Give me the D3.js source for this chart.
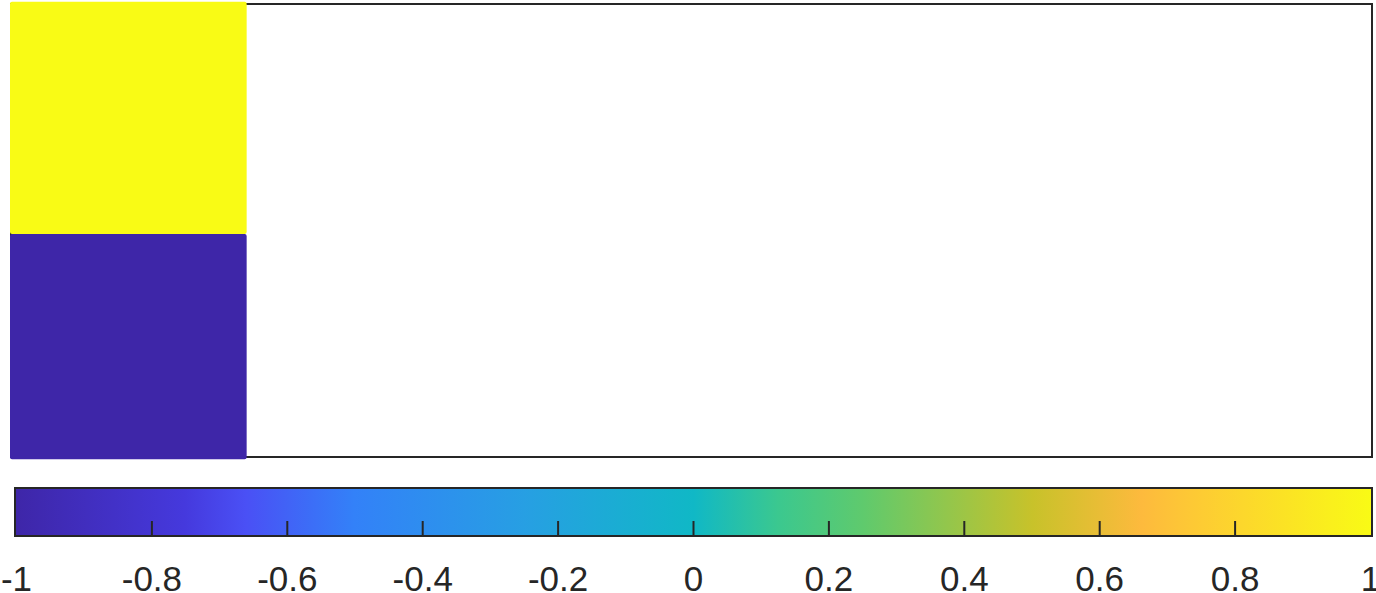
<!DOCTYPE html>
<html>
<head>
<meta charset="utf-8">
<script src="https://cdn.jsdelivr.net/npm/d3@7"></script>
<style>
  html, body { margin: 0; padding: 0; background: #fff; }
  svg { display: block; font-family: "Liberation Sans", Arial, sans-serif; }
</style>
</head>
<body>
<div id="chart"></div>
<script>
// cells of the image: x span, y span, value
var cellX0 = [0, 0];
var cellX1 = [1, 1];
var cellY0 = [0.985, -0.01];
var cellY1 = [2.01, 0.985];
var cellValue = [1, -1];

// colorbar ticks
var cbTicks = [-1, -0.8, -0.6, -0.4, -0.2, 0, 0.2, 0.4, 0.6, 0.8, 1];

// parula-like colormap
var cmapPos = [0, 0.125, 0.17, 0.25, 0.375, 0.5, 0.5625, 0.625, 0.75, 0.83, 0.875, 1];
var cmapColor = ["#3e26a8", "#4539dd", "#4a50f5", "#3381f8", "#279fe3", "#10b8c6",
                 "#3bc88f", "#5fca6d", "#c8c22a", "#fdba3d", "#fdcc33", "#f9fb15"];

var W = 1376, H = 593;

var svg = d3.select("#chart").append("svg")
  .attr("width", W)
  .attr("height", H);

// main axes
var ax = { left: 11, right: 1372, top: 4, bottom: 457 };
var x = d3.scaleLinear().domain([0, 5.8]).range([ax.left, ax.right]);
var y = d3.scaleLinear().domain([0, 2]).range([ax.bottom, ax.top]);

var color = d3.scaleLinear()
  .domain(cmapPos.map(function (p) { return -1 + 2 * p; }))
  .range(cmapColor);

svg.append("rect")
  .attr("x", ax.left)
  .attr("y", ax.top)
  .attr("width", ax.right - ax.left)
  .attr("height", ax.bottom - ax.top)
  .attr("fill", "#fff")
  .attr("stroke", "#262626")
  .attr("stroke-width", 2);

// markers spill a little over the cell edges, covering the left border
svg.selectAll(".cell")
  .data(cellValue)
  .enter().append("rect")
  .attr("class", "cell")
  .attr("x", function (d, i) { return x(cellX0[i]) - 1; })
  .attr("y", function (d, i) { return y(cellY1[i]); })
  .attr("width", function (d, i) { return x(cellX1[i]) - x(cellX0[i]) + 2; })
  .attr("height", function (d, i) { return y(cellY0[i]) - y(cellY1[i]); })
  .attr("rx", 2)
  .attr("fill", function (d) { return color(d); });

// colorbar
var cb = { left: 15, right: 1372, top: 488, bottom: 536 };
var cbScale = d3.scaleLinear().domain([-1, 1]).range([cb.left + 1, cb.right - 2]);

var grad = svg.append("defs").append("linearGradient")
  .attr("id", "cmap")
  .attr("x1", "0%").attr("x2", "100%").attr("y1", "0%").attr("y2", "0%");
grad.selectAll("stop")
  .data(cmapPos)
  .enter().append("stop")
  .attr("offset", function (d) { return (d * 100) + "%"; })
  .attr("stop-color", function (d, i) { return cmapColor[i]; });

svg.append("rect")
  .attr("x", cb.left)
  .attr("y", cb.top)
  .attr("width", cb.right - cb.left)
  .attr("height", cb.bottom - cb.top)
  .attr("fill", "url(#cmap)")
  .attr("stroke", "#262626")
  .attr("stroke-width", 2);

var cbAxis = d3.axisBottom(cbScale)
  .tickValues(cbTicks)
  .tickSizeInner(-15)
  .tickSizeOuter(0)
  .tickPadding(30)
  .tickFormat(function (d) { return String(d); });

var g = svg.append("g")
  .attr("transform", "translate(0," + cb.bottom + ")")
  .call(cbAxis);

g.select(".domain").remove();
g.selectAll(".tick line")
  .attr("stroke", "#262626")
  .attr("stroke-width", 2)
  .attr("display", function (d) { return (d === -1 || d === 1) ? "none" : null; });
g.selectAll(".tick text")
  .attr("fill", "#262626")
  .style("font-size", "35px")
  .style("font-family", "'Liberation Sans', Arial, sans-serif");
</script>
</body>
</html>
